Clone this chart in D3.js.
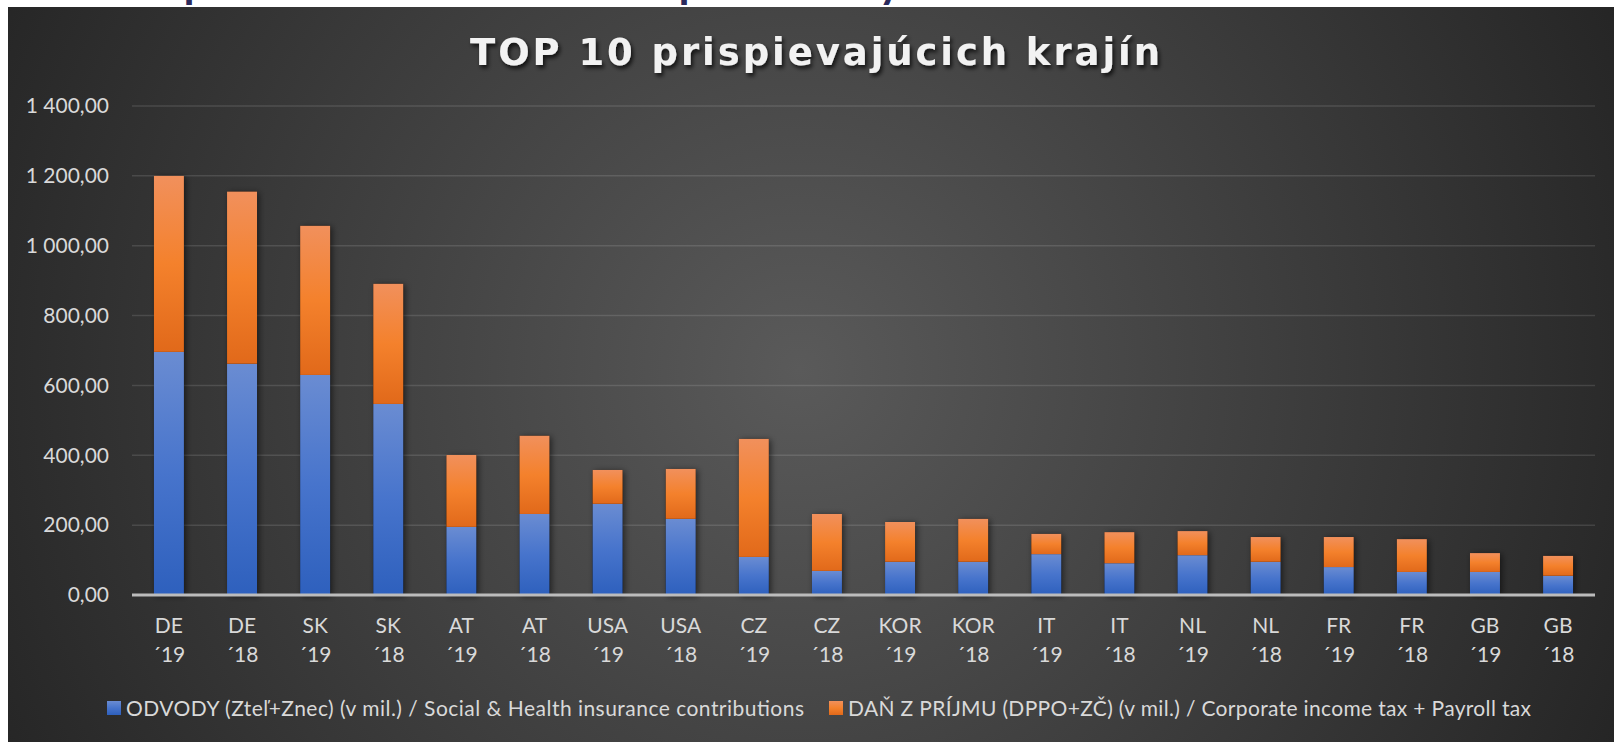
<!DOCTYPE html>
<html>
<head>
<meta charset="utf-8">
<script src="https://cdn.jsdelivr.net/npm/d3@7"></script>
<style>
  html, body { margin: 0; padding: 0; background: #fff; overflow: hidden; }
  svg { display: block; }
</style>
</head>
<body>
<div id="chart"></div>
<script>
const countries = ['DE', 'DE', 'SK', 'SK', 'AT', 'AT', 'USA', 'USA', 'CZ', 'CZ', 'KOR', 'KOR', 'IT', 'IT', 'NL', 'NL', 'FR', 'FR', 'GB', 'GB'];
const years = ['´19', '´18', '´19', '´18', '´19', '´18', '´19', '´18', '´19', '´18', '´19', '´18', '´19', '´18', '´19', '´18', '´19', '´18', '´19', '´18'];
// ODVODY (social & health contributions)
const odvody = [696, 662, 630, 547, 195, 232, 261, 218, 109, 69, 95, 95, 117, 91, 114, 95, 80, 66, 66, 55];
// DAN Z PRIJMU (corporate income tax + payroll tax)
const dan = [504, 493, 427, 344, 206, 224, 97, 143, 338, 163, 114, 123, 58, 89, 69, 71, 86, 94, 54, 57];
const yTicks = [0, 200, 400, 600, 800, 1000, 1200, 1400];
const seriesNames = [
  'ODVODY (Zteľ+Znec) (v mil.) / Social & Health insurance contributions',
  'DAŇ Z PRÍJMU (DPPO+ZČ) (v mil.) / Corporate income tax + Payroll tax'
];
const chartTitle = 'TOP 10 prispievajúcich krajín';

const W = 1614, H = 742;
const margin = { top: 106, right: 19, bottom: 147, left: 132 };
const font = 'Lato, "Open Sans", sans-serif';

const svg = d3.select('#chart').append('svg')
  .attr('width', W)
  .attr('height', H);

const defs = svg.append('defs');

const bg = defs.append('radialGradient')
  .attr('id', 'bg')
  .attr('gradientUnits', 'userSpaceOnUse')
  .attr('cx', 800).attr('cy', 370).attr('r', 900);
bg.append('stop').attr('offset', 0).attr('stop-color', '#5a5a5a');
bg.append('stop').attr('offset', 1).attr('stop-color', '#252525');

const blueGrad = defs.append('linearGradient')
  .attr('id', 'blue').attr('x1', 0).attr('y1', 0).attr('x2', 0).attr('y2', 1);
blueGrad.append('stop').attr('offset', 0).attr('stop-color', '#6a8cd2');
blueGrad.append('stop').attr('offset', 0.5).attr('stop-color', '#4774cc');
blueGrad.append('stop').attr('offset', 1).attr('stop-color', '#2e60bd');

const orangeGrad = defs.append('linearGradient')
  .attr('id', 'orange').attr('x1', 0).attr('y1', 0).attr('x2', 0).attr('y2', 1);
orangeGrad.append('stop').attr('offset', 0).attr('stop-color', '#f1905c');
orangeGrad.append('stop').attr('offset', 0.5).attr('stop-color', '#f4812c');
orangeGrad.append('stop').attr('offset', 1).attr('stop-color', '#e1691a');

defs.append('filter').attr('id', 'barShadow')
  .attr('x', '-50%').attr('y', '-10%').attr('width', '200%').attr('height', '120%')
  .append('feDropShadow')
  .attr('dx', 2).attr('dy', 1).attr('stdDeviation', 3)
  .attr('flood-color', '#000').attr('flood-opacity', 0.55);

defs.append('filter').attr('id', 'titleShadow')
  .attr('x', '-5%').attr('y', '-30%').attr('width', '110%').attr('height', '160%')
  .append('feDropShadow')
  .attr('dx', 2).attr('dy', 3).attr('stdDeviation', 2)
  .attr('flood-color', '#000').attr('flood-opacity', 0.75);

// slide heading above the chart, only the descenders are visible
svg.selectAll('text.cut')
  .data([{ ch: 'p', x: 184 }, { ch: 'p', x: 679 }, { ch: 'y', x: 879 }])
  .join('text')
  .attr('class', 'cut')
  .attr('x', d => d.x)
  .attr('y', -2)
  .attr('font-family', 'Lato, sans-serif')
  .attr('font-weight', 900)
  .attr('font-size', 40)
  .attr('fill', '#2b2a5c')
  .text(d => d.ch);

svg.append('rect')
  .attr('x', 8).attr('y', 7)
  .attr('width', W - 8).attr('height', H - 7)
  .attr('fill', 'url(#bg)');

svg.append('text')
  .attr('x', 815)
  .attr('y', 65)
  .attr('text-anchor', 'middle')
  .attr('font-family', '"DejaVu Sans", sans-serif')
  .attr('font-weight', 'bold')
  .attr('font-size', 37)
  .attr('textLength', 690)
  .attr('lengthAdjust', 'spacing')
  .attr('fill', '#f2f2f2')
  .attr('filter', 'url(#titleShadow)')
  .text(chartTitle);

const idx = d3.range(countries.length);

const x = d3.scaleBand()
  .domain(idx)
  .range([margin.left, W - margin.right])
  .paddingInner(0.59)
  .paddingOuter(0.3);

const y = d3.scaleLinear()
  .domain([0, 1400])
  .range([H - margin.bottom, margin.top]);

svg.append('g')
  .attr('class', 'grid')
  .selectAll('line')
  .data(yTicks.filter(t => t > 0))
  .join('line')
  .attr('x1', margin.left)
  .attr('x2', W - margin.right)
  .attr('y1', d => y(d))
  .attr('y2', d => y(d))
  .attr('stroke', '#ffffff')
  .attr('stroke-opacity', 0.12)
  .attr('stroke-width', 1.5);

const fmt = v => d3.format(',.2f')(v).replace(/,/g, ' ').replace('.', ',');

svg.append('g')
  .attr('class', 'axis y')
  .attr('transform', `translate(${margin.left - 23},0)`)
  .call(d3.axisLeft(y).tickValues(yTicks).tickFormat(fmt).tickSize(0).tickPadding(0))
  .call(g => g.select('.domain').remove())
  .selectAll('text')
  .attr('font-family', font)
  .attr('font-size', 21)
  .attr('fill', '#d9d9d9');

const rows = idx.map(i => ({ i, odvody: odvody[i], dan: dan[i] }));
const stacked = d3.stack().keys(['odvody', 'dan'])(rows);
const fills = { odvody: 'url(#blue)', dan: 'url(#orange)' };

const bars = svg.append('g').attr('class', 'bars');

// shadow layer behind the whole stack
bars.selectAll('rect.shadow')
  .data(stacked[1])
  .join('rect')
  .attr('class', 'shadow')
  .attr('x', d => x(d.data.i))
  .attr('y', d => y(d[1]))
  .attr('width', x.bandwidth())
  .attr('height', d => y(0) - y(d[1]))
  .attr('fill', '#000')
  .attr('filter', 'url(#barShadow)');

bars.selectAll('g.series')
  .data(stacked)
  .join('g')
  .attr('class', 'series')
  .attr('fill', d => fills[d.key])
  .selectAll('rect')
  .data(d => d)
  .join('rect')
  .attr('x', d => x(d.data.i))
  .attr('y', d => y(d[1]))
  .attr('width', x.bandwidth())
  .attr('height', d => y(d[0]) - y(d[1]));

svg.append('line')
  .attr('x1', margin.left)
  .attr('x2', W - margin.right)
  .attr('y1', y(0))
  .attr('y2', y(0))
  .attr('stroke', '#bcbcbc')
  .attr('stroke-width', 3);

const xLabels = svg.append('g').attr('class', 'axis x')
  .selectAll('text')
  .data(idx)
  .join('text')
  .attr('x', i => x(i) + x.bandwidth() / 2)
  .attr('y', 633)
  .attr('text-anchor', 'middle')
  .attr('font-family', font)
  .attr('font-size', 21)
  .attr('fill', '#d9d9d9');

xLabels.append('tspan').text(i => countries[i]);
xLabels.append('tspan')
  .attr('x', i => x(i) + x.bandwidth() / 2)
  .attr('dy', 29)
  .text(i => years[i]);

const legend = svg.append('g').attr('class', 'legend')
  .selectAll('g')
  .data([
    { name: seriesNames[0], fill: 'url(#blue)', x: 107, w: 678 },
    { name: seriesNames[1], fill: 'url(#orange)', x: 829, w: 683 }
  ])
  .join('g')
  .attr('transform', d => `translate(${d.x},701)`);

legend.append('rect')
  .attr('width', 14)
  .attr('height', 14)
  .attr('fill', d => d.fill);

legend.append('text')
  .attr('x', 19)
  .attr('y', 15)
  .attr('font-family', font)
  .attr('font-size', 21)
  .attr('fill', '#d9d9d9')
  .attr('textLength', d => d.w)
  .attr('lengthAdjust', 'spacing')
  .text(d => d.name);
</script>
</body>
</html>
